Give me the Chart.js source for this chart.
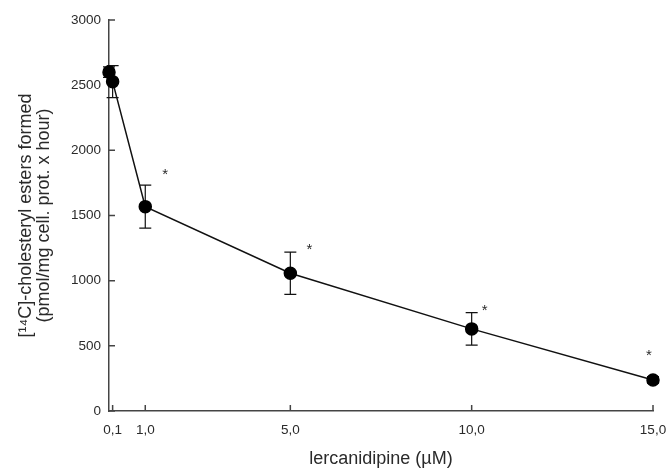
<!DOCTYPE html>
<html>
<head>
<meta charset="utf-8">
<script src="https://cdn.jsdelivr.net/npm/chart.js@4/dist/chart.umd.min.js"></script>
<style>
  html, body { margin: 0; padding: 0; background: #fff; }
  #wrap { width: 668px; height: 469px; }
</style>
</head>
<body>
<div id="wrap"><canvas id="myChart" width="668" height="469"></canvas></div>
<script>
'use strict';

// data
let doses = [0, 0.1, 1, 5, 10, 15];
let esters = [2600, 2527, 1568, 1057, 630, 238];
let errors = [40, 123, 165, 162, 125, 25];
let marks = ['', '', '*', '*', '*', '*'];
let xTicks = [0.1, 1, 5, 10, 15];
let yTicks = [0, 500, 1000, 1500, 2000, 2500, 3000];

const ink = '#2a2a2a';
const axisColor = '#444';
const font = '"Liberation Sans", Arial, sans-serif';

// asterisk offsets in px from each point (style only)
const markOffset = [[0, 0], [0, 0], [20, -32], [19, -23], [13, -18], [-4, -24]];

const extras = {
  id: 'extras',
  beforeDatasetsDraw(chart) {
    const ctx = chart.ctx;
    const xs = chart.scales.x;
    const ys = chart.scales.y;
    ctx.save();
    ctx.strokeStyle = '#111';
    ctx.lineWidth = 1.2;
    for (let i = 0; i < doses.length; i++) {
      let px = xs.getPixelForValue(doses[i]);
      let top = ys.getPixelForValue(esters[i] + errors[i]);
      let bot = ys.getPixelForValue(esters[i] - errors[i]);
      ctx.beginPath();
      ctx.moveTo(px, top); ctx.lineTo(px, bot);
      ctx.moveTo(px - 6, top); ctx.lineTo(px + 6, top);
      ctx.moveTo(px - 6, bot); ctx.lineTo(px + 6, bot);
      ctx.stroke();
    }
    // inward ticks
    ctx.strokeStyle = axisColor;
    ctx.lineWidth = 1.5;
    ctx.beginPath();
    for (let i = 0; i < xTicks.length; i++) {
      let px = xs.getPixelForValue(xTicks[i]);
      ctx.moveTo(px, ys.bottom); ctx.lineTo(px, ys.bottom - 6);
    }
    for (let i = 0; i < yTicks.length; i++) {
      let py = ys.getPixelForValue(yTicks[i]);
      ctx.moveTo(xs.left, py); ctx.lineTo(xs.left + 6, py);
    }
    ctx.stroke();
    ctx.restore();
  },
  afterDatasetsDraw(chart) {
    const ctx = chart.ctx;
    const xs = chart.scales.x;
    const ys = chart.scales.y;
    ctx.save();
    ctx.fillStyle = ink;
    ctx.font = '15px ' + font;
    ctx.textAlign = 'center';
    ctx.textBaseline = 'middle';
    for (let i = 0; i < doses.length; i++) {
      if (!marks[i]) continue;
      let px = xs.getPixelForValue(doses[i]) + markOffset[i][0];
      let py = ys.getPixelForValue(esters[i]) + markOffset[i][1];
      ctx.fillText(marks[i], px, py);
    }
    ctx.restore();
  }
};

let ctx = document.getElementById('myChart').getContext('2d');

let myChart = new Chart(ctx, {
  type: 'line',
  data: {
    datasets: [{
      data: doses.map((d, i) => ({ x: d, y: esters[i] })),
      borderColor: '#111',
      borderWidth: 1.5,
      backgroundColor: '#000',
      pointBackgroundColor: '#000',
      pointBorderColor: '#000',
      pointRadius: 6,
      tension: 0,
      clip: false
    }]
  },
  options: {
    responsive: false,
    animation: false,
    layout: { padding: { top: 20, right: 2, left: 17, bottom: 0 } },
    plugins: { legend: { display: false }, tooltip: { enabled: false } },
    scales: {
      x: {
        type: 'linear',
        min: 0,
        max: 15,
        afterBuildTicks(scale) {
          scale.ticks = xTicks.map(v => ({ value: v }));
        },
        afterFit(scale) {
          scale.height = 58;
          scale.paddingRight = 15;
        },
        ticks: {
          color: ink,
          font: { family: font, size: 13.5 },
          padding: 11,
          maxRotation: 0,
          autoSkip: false,
          callback: v => v.toFixed(1).replace('.', ',')
        },
        grid: { display: true, drawOnChartArea: false, drawTicks: false, color: 'transparent' },
        border: { display: true, color: axisColor, width: 1.5 },
        title: {
          display: true,
          text: 'lercanidipine (µM)',
          color: ink,
          font: { family: font, size: 18, lineHeight: 1.1 },
          padding: { top: 0, bottom: 0 }
        }
      },
      y: {
        min: 0,
        max: 3000,
        afterBuildTicks(scale) {
          scale.ticks = yTicks.map(v => ({ value: v }));
        },
        afterFit(scale) { scale.width = 92; },
        ticks: {
          color: ink,
          font: { family: font, size: 13.5 },
          padding: 8,
          callback: v => String(v)
        },
        grid: { display: true, drawOnChartArea: false, drawTicks: false, color: 'transparent' },
        border: { display: true, color: axisColor, width: 1.5 },
        title: {
          display: true,
          text: ['[¹⁴C]-cholesteryl esters formed', '(pmol/mg cell. prot. x hour)'],
          color: ink,
          font: { family: font, size: 18, lineHeight: 1.0 },
          padding: 0
        }
      }
    }
  },
  plugins: [extras]
});
</script>
</body>
</html>
